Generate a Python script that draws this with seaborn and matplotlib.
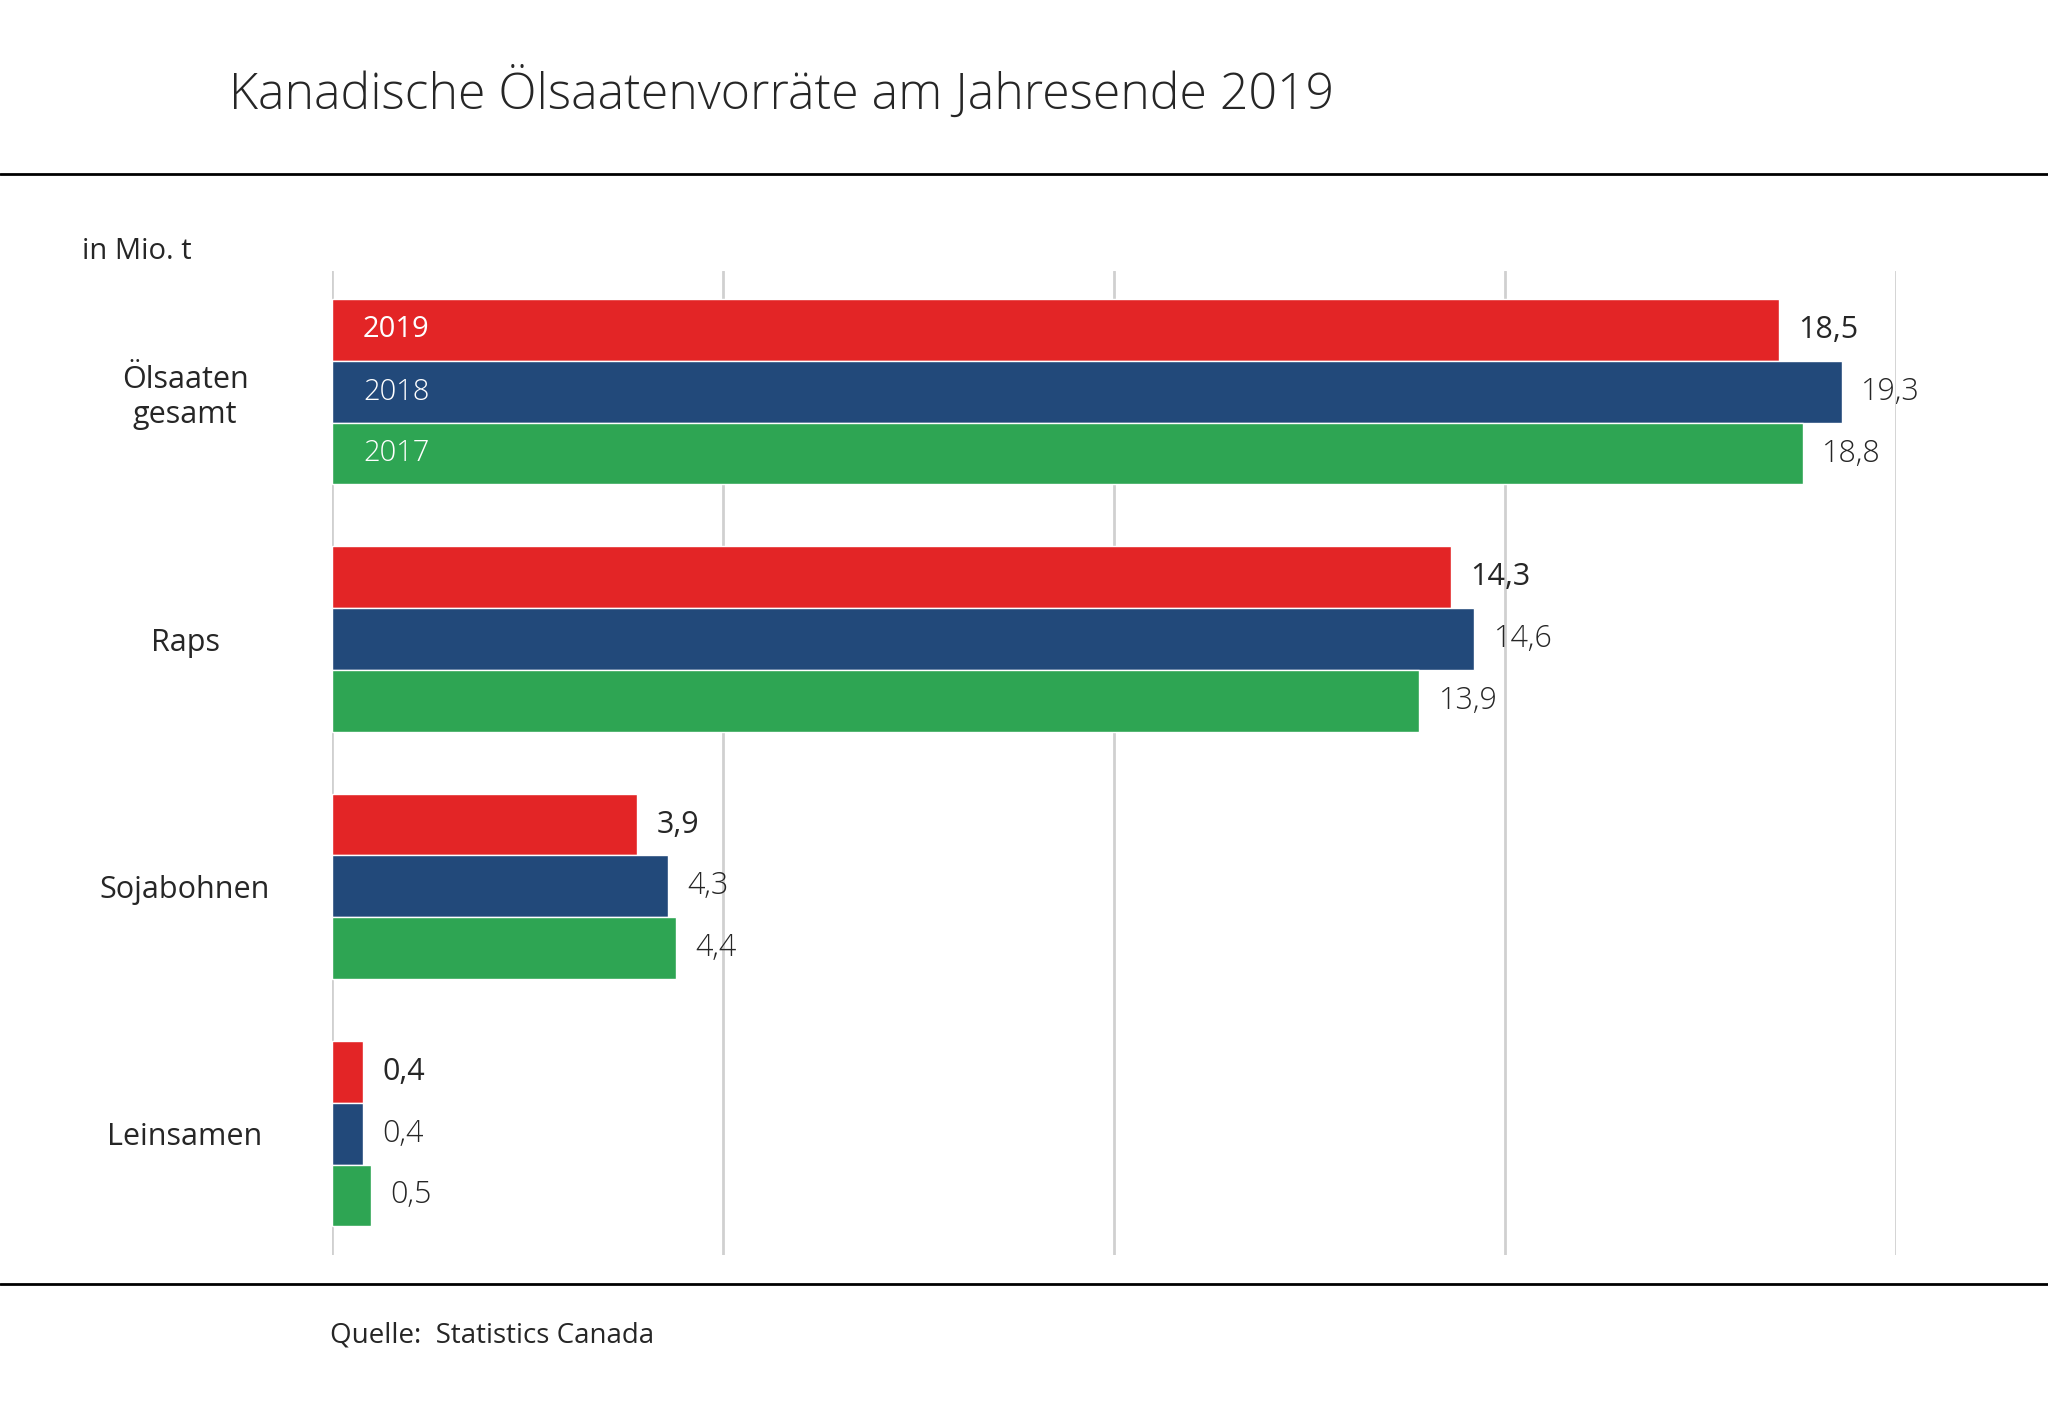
import pandas as pd
import matplotlib.pyplot as plt
import seaborn as sns

categories = ["Ölsaaten\ngesamt", "Raps", "Sojabohnen", "Leinsamen"]
years = ["2019", "2018", "2017"]
v2019 = [18.5, 14.3, 3.9, 0.4]
v2018 = [19.3, 14.6, 4.3, 0.4]
v2017 = [18.8, 13.9, 4.4, 0.5]
colors = ["#E32526", "#22497A", "#2EA553"]

rows = []
for yr, vals in zip(years, [v2019, v2018, v2017]):
    for c, v in zip(categories, vals):
        rows.append({"cat": c, "year": yr, "val": v})
df = pd.DataFrame(rows)

sns.set_style("white")
plt.rcParams["font.family"] = ["Open Sans", "DejaVu Sans"]

fig = plt.figure(figsize=(20.48, 14.02), dpi=100)
ax = fig.add_axes([0.162, 0.105, 0.764, 0.702])
sns.barplot(data=df, y="cat", x="val", hue="year", hue_order=years,
            palette=colors, width=0.75, orient="h", ax=ax, legend=False,
            saturation=1)
ax.set_xlim(0, 20)
ax.set_ylim(3.49, -0.49)
ax.set_xticks([0, 5, 10, 15, 20])
ax.xaxis.grid(True, color="#d0d0d0", linewidth=2)
ax.set_axisbelow(True)
ax.tick_params(axis="x", labelbottom=False, length=0)
ax.tick_params(axis="y", length=0, labelsize=22, pad=38)
for lbl in ax.get_yticklabels():
    lbl.set_horizontalalignment("center")
    lbl.set_x(-0.06)
for s in ax.spines.values():
    s.set_visible(False)
ax.set_xlabel("")
ax.set_ylabel("")

bw = 0.25
for gi, (yr, vals) in enumerate(zip(years, [v2019, v2018, v2017])):
    for ci, v in enumerate(vals):
        y = ci + (gi - 1) * bw
        ax.text(v + 0.25, y, f"{v:.1f}".replace(".", ","), va="center",
                ha="left", fontsize=22,
                fontweight="normal" if gi == 0 else "light")
    ax.text(0.4, 0 + (gi - 1) * bw, yr, color="white", va="center",
            ha="left", fontsize=21, fontweight="normal" if gi == 0 else "light")

fig.text(0.04, 0.815, "in Mio. t", fontsize=21)
fig.text(0.112, 0.933, "Kanadische Ölsaatenvorräte am Jahresende 2019",
         fontsize=36, fontweight="light", va="center")
fig.add_artist(plt.Line2D([0, 1], [1 - 133 / 1073] * 2, color="black", lw=2))
fig.add_artist(plt.Line2D([0, 1], [1 - 983 / 1073] * 2, color="black", lw=2))
fig.text(0.161, 1 - 1022 / 1073, "Quelle:  Statistics Canada", fontsize=20,
         va="center")

fig.savefig("out.png", dpi=100, facecolor="white")
